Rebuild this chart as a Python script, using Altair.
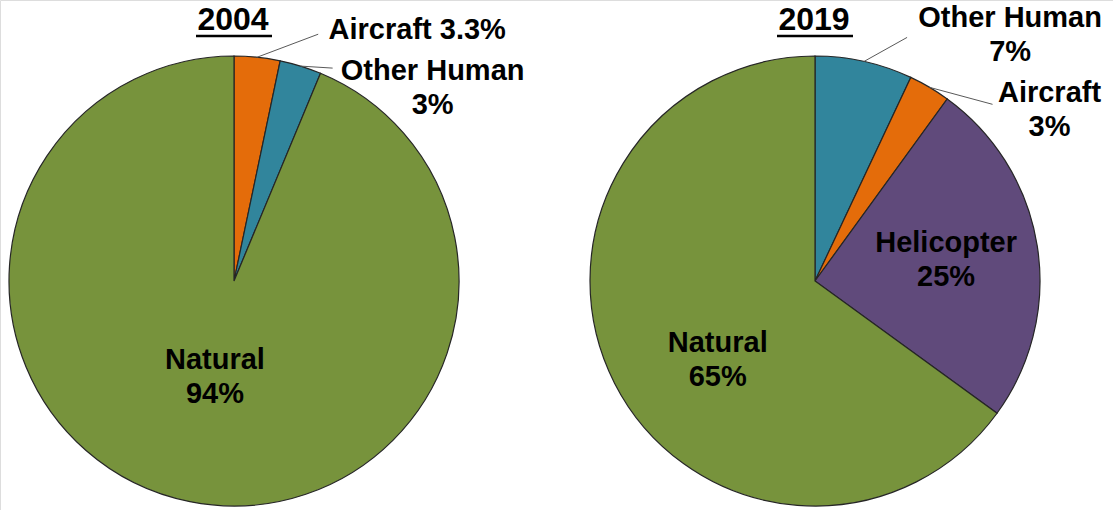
import math

import altair as alt
import pandas as pd

# Share of fire ignitions by cause (percent)
years = ["2004", "2019"]
categories_2004 = ["Aircraft", "Other Human", "Natural"]
shares_2004 = [3.3, 3, 94]
categories_2019 = ["Other Human", "Aircraft", "Helicopter", "Natural"]
shares_2019 = [7, 3, 25, 65]

palette = {
    "Natural": "#77933C",
    "Aircraft": "#E46C0A",
    "Other Human": "#31859C",
    "Helicopter": "#604A7B",
}

W, H = 1113, 510
RADIUS = 225
CENTERS = {"2004": (234, 281), "2019": (815, 281)}
FONT = "Liberation Sans"
LINE_HEIGHT = 34

# Label placement. "in": on the slice bisector at a fraction of the radius (+ nudge).
# "out": offset from the rim point where the leader line starts.
# Offsets give the centre of the text block.
label_layout = {
    ("2004", "Aircraft"): dict(kind="out", text=(160, -27), line=(61, -23), wrap=False),
    ("2004", "Other Human"): dict(kind="out", text=(132, 22), line=(32, 2), wrap=True),
    ("2004", "Natural"): dict(kind="in", frac=0.433, nudge=(0, 0), wrap=True),
    ("2019", "Other Human"): dict(kind="out", text=(146, -26), line=(43, -24), wrap=True),
    ("2019", "Aircraft"): dict(kind="out", text=(120, 23), line=(63, 17), wrap=True),
    ("2019", "Helicopter"): dict(kind="in", frac=0.59, nudge=(0, 0), wrap=True),
    ("2019", "Natural"): dict(kind="in", frac=0.555, nudge=(14, 22), wrap=True),
}

series = {"2004": (categories_2004, shares_2004), "2019": (categories_2019, shares_2019)}

slice_rows, label_rows, leader_rows, title_rows = [], [], [], []
for year in years:
    cats, vals = series[year]
    cx, cy = CENTERS[year]
    total = sum(vals)
    start = 0.0
    for i, (cat, v) in enumerate(zip(cats, vals)):
        frac = v / total
        mid = (start + frac / 2) * 2 * math.pi
        start += frac
        slice_rows.append(dict(year=year, category=cat, share=v, order=i))
        lay = label_layout[(year, cat)]
        sep = "\n" if lay["wrap"] else " "
        text = f"{cat}{sep}{v:g}%"
        ux, uy = math.sin(mid), -math.cos(mid)
        if lay["kind"] == "in":
            r = lay["frac"] * RADIUS
            lx = cx + r * ux + lay["nudge"][0]
            ly = cy + r * uy + lay["nudge"][1]
        else:
            rx, ry = cx + RADIUS * ux, cy + RADIUS * uy
            lx, ly = rx + lay["text"][0], ry + lay["text"][1]
            leader_rows.append(dict(x=rx, y=ry, x2=rx + lay["line"][0], y2=ry + lay["line"][1]))
        # the text anchor sits on the first line; shift so the block is centred
        if lay["wrap"]:
            ly -= LINE_HEIGHT / 2
        label_rows.append(dict(x=lx, y=ly, text=text))
    title_rows.append(dict(x=cx - 1, y=20, text=year, ux1=cx - 38, ux2=cx + 38, uy=36))

slices = pd.DataFrame(slice_rows)
labels = pd.DataFrame(label_rows)
leaders = pd.DataFrame(leader_rows)
titles = pd.DataFrame(title_rows)

color = alt.Color(
    "category:N",
    scale=alt.Scale(domain=list(palette), range=list(palette.values())),
    legend=None,
)

pies = []
for year in years:
    cx, cy = CENTERS[year]
    pies.append(
        alt.Chart(slices[slices.year == year])
        .mark_arc(radius=RADIUS, stroke="#262626", strokeWidth=1.2)
        .encode(
            theta=alt.Theta("share:Q", stack="normalize"),
            color=color,
            order=alt.Order("order:Q"),
            x=alt.value(cx),
            y=alt.value(cy),
        )
    )

px = lambda f: alt.X(f, type="quantitative", scale=None, axis=None)
py = lambda f: alt.Y(f, type="quantitative", scale=None, axis=None)

leader_lines = alt.Chart(leaders).mark_rule(color="#595959", strokeWidth=1).encode(
    x=px("x"), y=py("y"), x2="x2:Q", y2="y2:Q"
)

label_text = alt.Chart(labels).mark_text(
    font=FONT, fontWeight="bold", fontSize=29, lineBreak="\n", lineHeight=LINE_HEIGHT,
    align="center", baseline="middle", color="#000000",
).encode(x=px("x"), y=py("y"), text="text:N")

title_text = alt.Chart(titles).mark_text(
    font=FONT, fontWeight="bold", fontSize=32, align="center", baseline="middle",
    color="#000000",
).encode(x=px("x"), y=py("y"), text="text:N")

underline = alt.Chart(titles).mark_rule(color="#000000", strokeWidth=2.5).encode(
    x=px("ux1"), x2="ux2:Q", y=py("uy")
)

chart = (
    alt.layer(*pies, leader_lines, label_text, title_text, underline)
    .resolve_scale(theta="independent")
    .properties(width=W, height=H, padding=0, autosize=alt.AutoSizeParams(type="none"))
    .configure_view(stroke=None)
    .configure(background="white")
)

chart.save("out.html", embed_options={"renderer": "svg", "actions": False})
